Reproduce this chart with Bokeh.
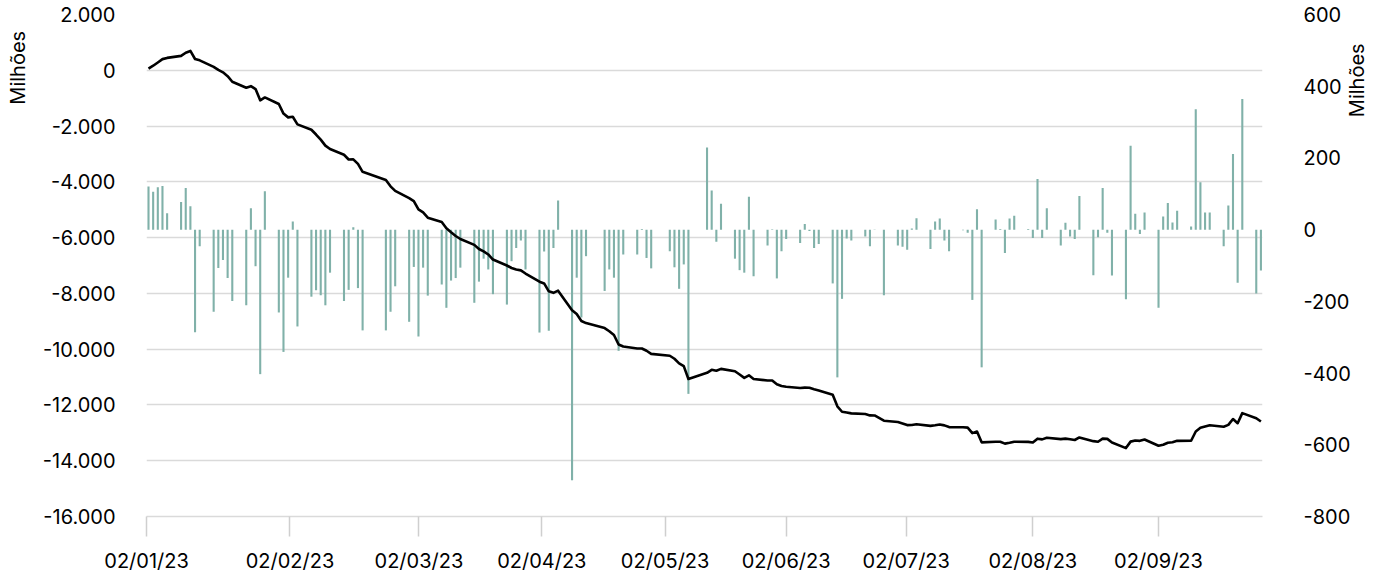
from math import pi
from bokeh.plotting import figure
from bokeh.models import Range1d, LinearAxis, FixedTicker, ColumnDataSource
from bokeh.embed import file_html
from bokeh.resources import INLINE

# ---------------- data ----------------
# trading days, as days elapsed since 2023-01-02
days = [0, 1, 2, 3, 4, 7, 8, 9, 10, 11, 14, 15, 16, 17, 18, 21, 22, 23, 24, 25, 28, 29, 30, 31, 32,
        35, 36, 37, 38, 39, 42, 43, 44, 45, 46, 51, 52, 53, 56, 57, 58, 59, 60,
        63, 64, 65, 66, 67, 70, 71, 72, 73, 74, 77, 78, 79, 80, 81, 84, 85, 86, 87, 88,
        91, 92, 93, 94, 98, 99, 100, 101, 102, 105, 106, 107, 108, 112, 113, 114, 115, 116,
        120, 121, 122, 123, 126, 127, 128, 129, 130, 133, 134, 135, 136, 137, 140, 141, 142, 143, 144,
        147, 148, 149, 150, 151,
        154, 155, 156, 158, 161, 162, 163, 164, 165, 168, 169, 170, 171, 172, 175, 176, 177, 178, 179,
        182, 183, 184, 185, 186, 189, 190, 191, 192, 193, 196, 197, 198, 199, 200,
        203, 204, 205, 206, 207, 210, 211, 212, 213, 214, 217, 218, 219, 220, 221,
        224, 225, 226, 227, 228, 231, 232, 233, 234, 235, 238, 239]

# daily flow (right axis, millions)
daily_flow = [120, 106, 118, 122, 46, 77, 116, 65, -286, -46, -229, -107, -85, -135, -199,
              -211, 60, -102, -403, 107, -231, -341, -134, 23, -270,
              -187, -169, -183, -211, -120, -199, -168, 7, -163, -281, -281, -229, -158,
              -257, -104, -298, -106, -184,
              -153, -218, -142, -135, -106, -204, -145, -81, -111, -180, -209, -88, -51, -30, -111,
              -287, -61, -282, -51, 81,
              -699, -134, -245, -74, -171, -111, -134, -338, -69, -69, 2, -79, -108,
              -60, -105, -165, -97, -458,
              229, 109, -34, 72, -81, -113, -120, 92, -130, -44, 1, -136, -60, -26,
              -37, 16, -4, -51, -40, -150, -412, -193, -25, -30,
              -19, -46, -1, -183, -44, -48, -56, 3, 32, -54, 23, 31, -30, -60, -2, -9, -196, 57, -384,
              28, 2, -65, 31, 39, 2, -23, 141, -23, 60, -44, 19, -19, -26, 94,
              -127, -21, 116, -9, -128, -194, 234, 44, -12, 48, -218, 37, 74, 20, 53,
              9, 336, 132, 48, 48, -46, 67, 211, -148, 364, -178, -114]

# accumulated flow (left axis, millions)
accumulated = [60, 164, 280, 400, 444, 516, 630, 693, 405, 357, 122, 13, -73, -210, -411,
               -628, -570, -674, -1079, -974, -1210, -1553, -1689, -1668, -1940,
               -2133, -2303, -2488, -2701, -2823, -3028, -3198, -3193, -3358, -3640,
               -3931, -4162, -4322, -4584, -4690, -4990, -5098, -5284,
               -5443, -5663, -5807, -5943, -6051, -6261, -6408, -6491, -6604, -6786,
               -7000, -7090, -7143, -7175, -7288, -7581, -7644, -7927, -7980, -7901,
               -8606, -8742, -8989, -9065, -9243, -9356, -9492, -9832, -9903,
               -9978, -9977, -10058, -10168, -10236, -10343, -10510, -10609, -11068,
               -10847, -10740, -10776, -10706, -10792, -10907, -11029, -10939, -11071,
               -11121, -11122, -11260, -11321, -11349, -11392, -11378, -11384, -11437, -11479,
               -11634, -12048, -12243, -12270, -12302,
               -12327, -12375, -12377, -12564, -12614, -12664, -12722, -12721, -12691,
               -12750, -12729, -12700, -12732, -12794, -12802, -12812, -13010, -12955, -13341,
               -13319, -13319, -13386, -13357, -13319, -13323, -13348, -13209, -13234, -13176,
               -13225, -13208, -13229, -13257, -13165, -13298, -13321, -13207, -13217, -13347,
               -13547, -13315, -13273, -13287, -13241, -13464, -13429, -13357, -13339, -13288,
               -13285, -12951, -12820, -12774, -12728, -12780, -12715, -12506, -12656, -12294,
               -12477, -12593]

assert len(days) == len(daily_flow) == len(accumulated)

x_tick_labels = ["02/01/23", "02/02/23", "02/03/23", "02/04/23", "02/05/23",
                 "02/06/23", "02/07/23", "02/08/23", "02/09/23"]
x_tick_days = [-0.42, 30.4, 58.1, 84.5, 111.0, 137.0, 162.8, 190.0, 217.0]
left_ticks = [-16000, -14000, -12000, -10000, -8000, -6000, -4000, -2000, 0, 2000]
left_tick_labels = ["-16.000", "-14.000", "-12.000", "-10.000", "-8.000", "-6.000",
                    "-4.000", "-2.000", "0", "2.000"]
right_ticks = [-800, -600, -400, -200, 0, 200, 400, 600]
right_tick_labels = ["-800", "-600", "-400", "-200", "0", "200", "400", "600"]
axis_title = "Milhões"

# ---------------- style ----------------
FONT = "Inter"
FS = "20px"
BAR = "#80b1a9"
GRID = "#dadada"
LEFT_TITLE_AT = 90        # centre of the left unit title (left-axis units)
RIGHT_TITLE_AT = -1680    # lower end of the right unit title (left-axis units)

p = figure(width=1384, height=575, output_backend="svg", toolbar_location=None,
           x_range=Range1d(-0.43, 239.34), y_range=Range1d(-16000, 2000),
           min_border_left=146, min_border_right=121, min_border_top=14, min_border_bottom=57)
p.extra_y_ranges = {"flow": Range1d(-800, 600)}
p.outline_line_color = None
p.background_fill_color = "white"
p.border_fill_color = "white"

src = ColumnDataSource(dict(x=days, flow=daily_flow, acc=accumulated))
p.vbar(x="x", top="flow", bottom=0, width=0.45, source=src, y_range_name="flow",
       fill_color=BAR, line_color=None)
p.line(x="x", y="acc", source=src, line_color="black", line_width=2.6, line_join="round")

# grid
p.xgrid.grid_line_color = None
p.ygrid.ticker = FixedTicker(ticks=left_ticks)
p.ygrid.grid_line_color = GRID
p.ygrid.grid_line_width = 1.5


def style_axis(ax, standoff):
    ax.major_label_text_font = FONT
    ax.major_label_text_font_size = FS
    ax.major_label_text_color = "black"
    ax.minor_tick_line_color = None
    ax.minor_tick_out = 0
    ax.minor_tick_in = 0
    ax.major_label_standoff = standoff


def bare(ax):
    ax.axis_line_color = None
    ax.major_tick_line_color = None
    ax.major_tick_out = 0
    ax.major_tick_in = 0


# left axis
ly = p.yaxis[0]
style_axis(ly, 31)
bare(ly)
ly.ticker = FixedTicker(ticks=left_ticks)
ly.major_label_overrides = dict(zip(left_ticks, left_tick_labels))

# left unit title (vertical text, reading upwards)
lt = LinearAxis(ticker=FixedTicker(ticks=[LEFT_TITLE_AT]))
style_axis(lt, 9)
bare(lt)
lt.major_label_overrides = {LEFT_TITLE_AT: axis_title}
lt.major_label_orientation = "vertical"
p.add_layout(lt, "left")

# right axis
ry = LinearAxis(y_range_name="flow", ticker=FixedTicker(ticks=right_ticks))
style_axis(ry, 41)
bare(ry)
ry.major_label_overrides = dict(zip(right_ticks, right_tick_labels))
p.add_layout(ry, "right")

# right unit title (vertical text, reading upwards)
rt = LinearAxis(ticker=FixedTicker(ticks=[RIGHT_TITLE_AT]))
style_axis(rt, 4)
bare(rt)
rt.major_label_overrides = {RIGHT_TITLE_AT: axis_title}
rt.major_label_orientation = pi / 2
p.add_layout(rt, "right")

# bottom axis
bx = p.xaxis[0]
style_axis(bx, 12)
bx.ticker = FixedTicker(ticks=x_tick_days)
bx.major_label_overrides = dict(zip(x_tick_days, x_tick_labels))
bx.axis_line_color = GRID
bx.axis_line_width = 1.5
bx.major_tick_line_color = "#cfcfcf"
bx.major_tick_line_width = 1.5
bx.major_tick_out = 20
bx.major_tick_in = 0

open("out.html", "w").write(file_html(p, INLINE))
